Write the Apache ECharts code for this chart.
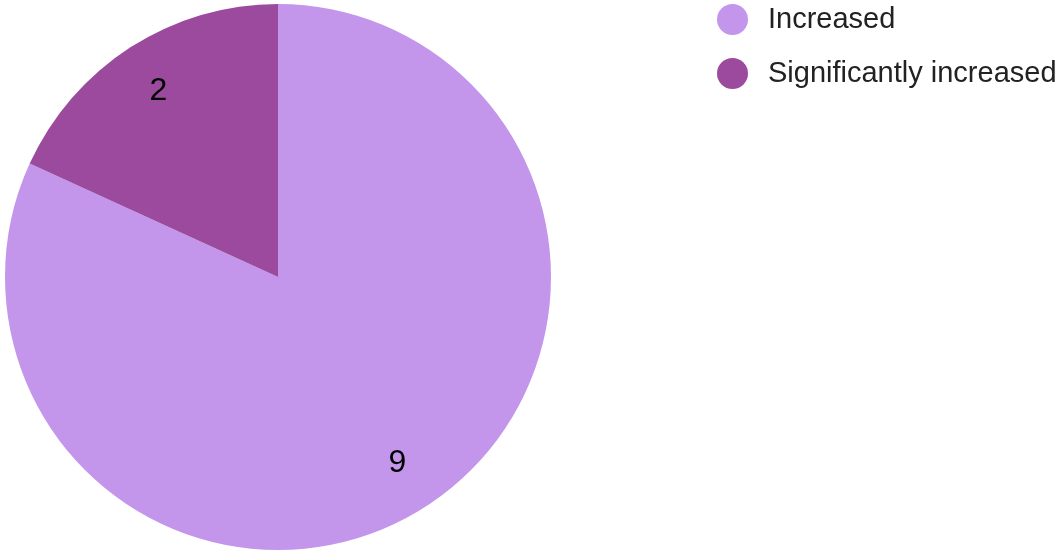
<!DOCTYPE html>
<html>
<head>
<meta charset="utf-8">
<style>
  html, body { margin: 0; padding: 0; background: #ffffff; }
  #chart { width: 1062px; height: 550px; }
</style>
<script src="https://cdn.jsdelivr.net/npm/echarts@6/dist/echarts.min.js"></script>
</head>
<body>
<div id="chart"></div>
<script>
// Response categories and their counts
const categories = ['Increased', 'Significantly increased'];
const counts = [9, 2];
const colors = ['#c396ec', '#9c4a9d'];

const pieData = categories.map((name, i) => ({
  name: name,
  value: counts[i],
  itemStyle: { color: colors[i] }
}));

const chart = echarts.init(document.getElementById('chart'), null, { renderer: 'canvas' });

chart.setOption({
  animation: false,
  backgroundColor: '#ffffff',
  legend: {
    orient: 'vertical',
    left: 712,
    top: -1,
    icon: 'circle',
    itemWidth: 31,
    itemHeight: 31,
    itemGap: 23,
    data: categories,
    textStyle: {
      fontFamily: 'Liberation Sans, Arial, sans-serif',
      fontSize: 29,
      color: '#222222',
      padding: [0, 0, 0, 15]
    }
  },
  series: [
    {
      // filled pie
      type: 'pie',
      center: [278, 277],
      radius: 273,
      startAngle: 90,
      clockwise: true,
      silent: true,
      label: { show: false },
      labelLine: { show: false },
      itemStyle: { borderWidth: 0 },
      data: pieData
    },
    {
      // transparent ring carrying the value labels at 80% of the radius
      type: 'pie',
      center: [278, 277],
      radius: [163, 273],
      startAngle: 90,
      clockwise: true,
      silent: true,
      itemStyle: { color: 'rgba(0,0,0,0)', borderWidth: 0 },
      label: {
        show: true,
        position: 'inside',
        formatter: '{c}',
        fontFamily: 'Liberation Sans, Arial, sans-serif',
        fontSize: 32,
        color: '#000000'
      },
      labelLine: { show: false },
      data: categories.map((name, i) => ({ name: name, value: counts[i] }))
    }
  ]
});
</script>
</body>
</html>
